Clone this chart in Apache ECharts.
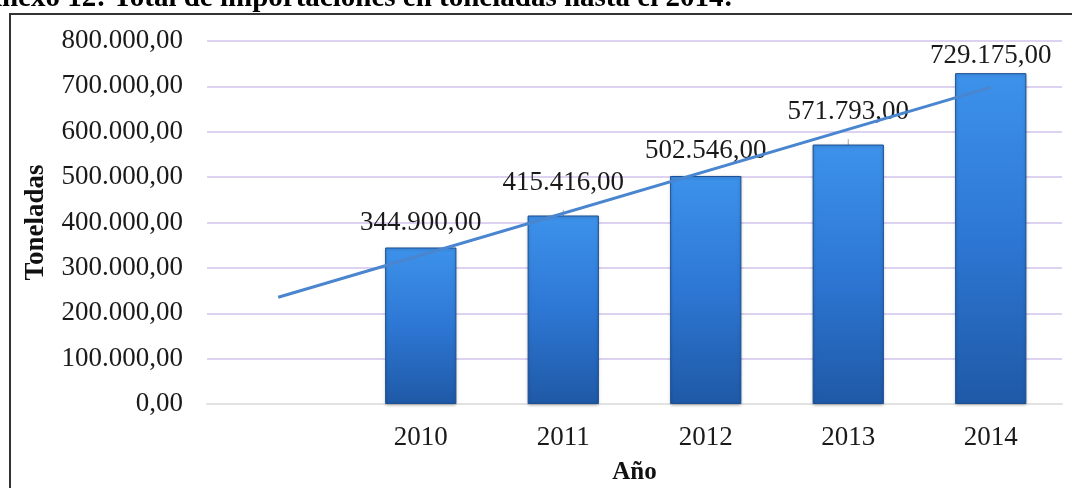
<!DOCTYPE html>
<html>
<head>
<meta charset="utf-8">
<script src="https://cdn.jsdelivr.net/npm/echarts@6/dist/echarts.min.js"></script>
<style>
  html, body { margin: 0; padding: 0; background: #fff; }
  #chart { width: 1072px; height: 488px; }
</style>
</head>
<body>
<div id="chart"></div>
<script>
// categorias (la primera vacia, como en el original)
const years = ['', '2010', '2011', '2012', '2013', '2014']
const toneladas = ['-', 344900, 415416, 502546, 571793, 729175]
// linea de tendencia (inicio y fin)
const tendencia = [235300, null, null, null, null, 697800]
const yTicks = { min: 0, max: 800000, step: 100000 }

const fmt = v => {
  const s = Math.round(v).toString().replace(/\B(?=(\d{3})+(?!\d))/g, '.')
  return s + ',00'
}

const chart = echarts.init(document.getElementById('chart'))

const serif = '"Liberation Serif", "DejaVu Serif", serif'

// distancia de cada etiqueta sobre la barra
const labelDist = [0, 11, 19, 12, 19, 4]

const option = {
  animation: false,
  grid: {
    left: 207,
    right: 10,
    top: 41,
    bottom: 84,
    outerBoundsMode: 'none'
  },
  xAxis: {
    type: 'category',
    data: years,
    name: 'Año',
    nameLocation: 'middle',
    nameGap: 56,
    nameTextStyle: {
      color: '#111',
      fontFamily: serif,
      fontSize: 25,
      fontWeight: 'bold'
    },
    axisLine: { show: true, lineStyle: { color: '#e2e2e2', width: 2 } },
    axisTick: { show: false },
    axisLabel: {
      color: '#1a1a1a',
      fontFamily: serif,
      fontSize: 27,
      margin: 20
    }
  },
  yAxis: {
    type: 'value',
    min: yTicks.min,
    max: yTicks.max,
    interval: yTicks.step,
    name: 'Toneladas',
    nameLocation: 'middle',
    nameGap: 157,
    nameTextStyle: {
      color: '#111',
      fontFamily: serif,
      fontSize: 27,
      fontWeight: 'bold'
    },
    axisLine: { show: false },
    axisTick: { show: false },
    splitLine: { lineStyle: { color: '#ddd2f0', width: 2 } },
    axisLabel: {
      color: '#1a1a1a',
      fontFamily: serif,
      fontSize: 27,
      margin: 24,
      formatter: v => v === 0 ? '0,00' : fmt(v)
    }
  },
  graphic: [
    {
      type: 'text',
      left: -19,
      top: -16,
      style: {
        text: 'Anexo 12: Total de importaciones en toneladas hasta el 2014:',
        font: 'bold 29px "Liberation Serif"',
        fill: '#000'
      }
    },
    {
      type: 'polyline',
      shape: { points: [[10, 488], [10, 14], [1072, 14]] },
      style: { stroke: '#333', lineWidth: 2, fill: null }
    }
  ],
  series: [
    {
      name: 'Toneladas',
      type: 'bar',
      z: 2,
      barWidth: '50%',
      data: toneladas.map((v, i) => ({
        value: v,
        label: { distance: labelDist[i] }
      })),
      itemStyle: {
        color: new echarts.graphic.LinearGradient(0, 0, 0, 1, [
          { offset: 0, color: '#3d92ea' },
          { offset: 0.5, color: '#2d77d4' },
          { offset: 1, color: '#1f59a6' }
        ]),
        borderColor: '#1b4f92',
        borderWidth: 1,
        shadowColor: 'rgba(0,0,0,0.25)',
        shadowBlur: 3,
        shadowOffsetY: 1
      },
      label: {
        show: true,
        position: 'top',
        color: '#1a1a1a',
        fontFamily: serif,
        fontSize: 27,
        formatter: p => fmt(p.value)
      },
      labelLine: {
        show: true,
        lineStyle: { color: '#a6a6a6', width: 1 }
      }
    },
    {
      name: 'Tendencia',
      type: 'line',
      z: 5,
      data: tendencia,
      connectNulls: true,
      symbol: 'none',
      lineStyle: { color: '#4a85cf', width: 3 }
    }
  ]
}

chart.setOption(option)
</script>
</body>
</html>
